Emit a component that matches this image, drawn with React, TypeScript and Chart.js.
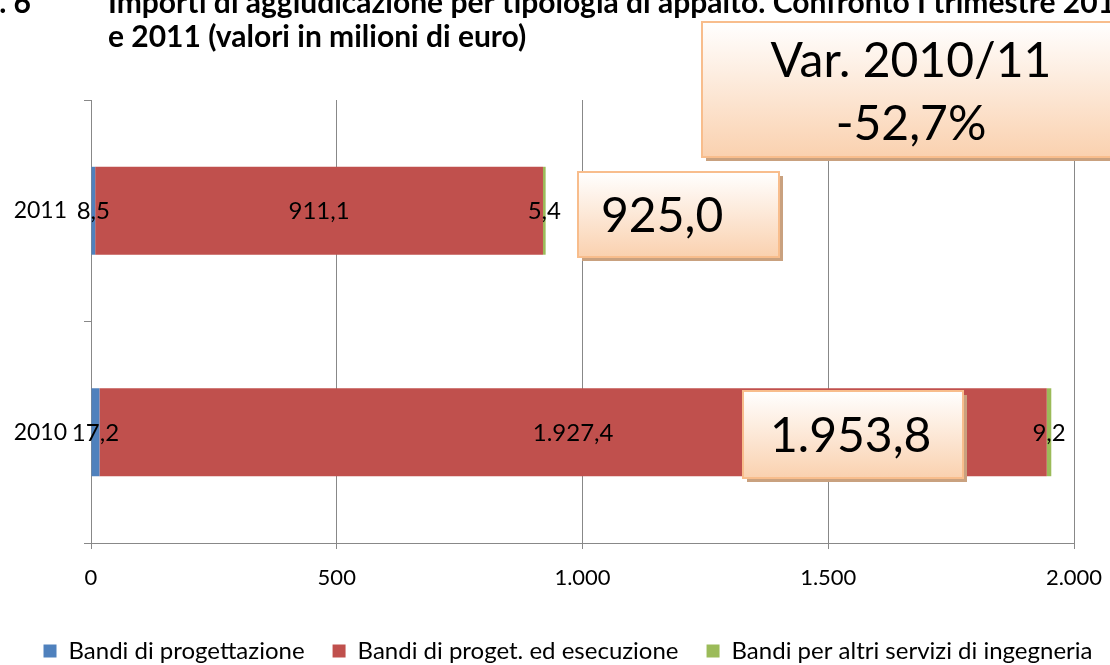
import React, { useEffect, useRef } from 'react';
import { Chart, registerables } from 'chart.js';

Chart.register(...registerables);

// ---- data ----
const categories = ['2011', '2010'];
const seriesNames = [
  'Bandi di progettazione',
  'Bandi di proget. ed esecuzione',
  'Bandi per altri servizi di ingegneria',
];
const progettazione = [8.5, 17.2];
const progEsecuzione = [911.1, 1927.4];
const altriServizi = [5.4, 9.2];
const xTickValues = [0, 500, 1000, 1500, 2000];
const figLabel = 'Fig. 6';
const titleLines = [
  'Importi di aggiudicazione per tipologia di appalto. Confronto I trimestre 2010',
  'e 2011 (valori in milioni di euro)',
];
const varLabel = 'Var. 2010/11';

const seriesColors = ['#4F81BD', '#C0504D', '#9BBB59'];
const FONT = "Lato, 'Open Sans', sans-serif";

function itNum(v: number, dec: number): string {
  const s = v.toFixed(dec);
  const neg = s.startsWith('-');
  const body = neg ? s.slice(1) : s;
  const [i, d] = body.split('.');
  const withDots = i.replace(/\B(?=(\d{3})+(?!\d))/g, '.');
  return (neg ? '-' : '') + withDots + (d !== undefined ? ',' + d : '');
}

const totals = categories.map((_, i) => progettazione[i] + progEsecuzione[i] + altriServizi[i]);
const variation = ((totals[0] - totals[1]) / totals[1]) * 100;

function drawBox(
  ctx: CanvasRenderingContext2D,
  x: number, y: number, w: number, h: number,
  lines: string[], fontSize: number, align: 'left' | 'center', textX: number, lineYs: number[]
) {
  ctx.save();
  ctx.fillStyle = '#C9A17F';
  ctx.fillRect(x + 4, y + 4, w, h);
  const g = ctx.createLinearGradient(0, y, 0, y + h);
  g.addColorStop(0, '#FFFFFF');
  g.addColorStop(1, '#FAD1AF');
  ctx.fillStyle = g;
  ctx.fillRect(x, y, w, h);
  ctx.strokeStyle = '#F8BD8C';
  ctx.lineWidth = 2;
  ctx.strokeRect(x, y, w, h);
  ctx.fillStyle = '#000';
  ctx.font = `${fontSize}px ${FONT}`;
  ctx.textAlign = align;
  ctx.textBaseline = 'middle';
  lines.forEach((l, i) => ctx.fillText(l, textX, lineYs[i]));
  ctx.restore();
}

const labelsPlugin = {
  id: 'segLabels',
  afterDatasetsDraw(chart: any) {
    const ctx = chart.ctx as CanvasRenderingContext2D;
    ctx.save();
    ctx.font = `24px ${FONT}`;
    ctx.fillStyle = '#000';
    ctx.textAlign = 'center';
    ctx.textBaseline = 'middle';
    chart.data.datasets.forEach((ds: any, di: number) => {
      const meta = chart.getDatasetMeta(di);
      meta.data.forEach((el: any, i: number) => {
        const p = el.getProps(['x', 'y', 'base'], true);
        const cx = (p.x + p.base) / 2;
        ctx.fillText(itNum(ds.data[i], 1), cx, p.y + 1);
      });
    });
    ctx.restore();
  },
};

const decorPlugin = {
  id: 'decor',
  afterLayout(chart: any) {
    if (chart.legend) {
      chart.legend.left += 13;
      chart.legend.right += 13;
    }
  },
  afterDraw(chart: any) {
    const ctx = chart.ctx as CanvasRenderingContext2D;
    ctx.save();
    ctx.fillStyle = '#000';
    ctx.font = `bold 30px ${FONT}`;
    ctx.textBaseline = 'alphabetic';
    ctx.textAlign = 'right';
    ctx.fillText(figLabel, 31, 13);
    ctx.textAlign = 'left';
    ctx.fillText(titleLines[0], 108, 13);
    ctx.fillText(titleLines[1], 108, 47);
    ctx.restore();

    drawBox(ctx, 702, 22, 418, 135, [varLabel, itNum(variation, 1) + '%'], 48, 'center', 911, [62, 125]);
    drawBox(ctx, 578, 172, 201, 85, [itNum(totals[0], 1)], 48, 'left', 601, [217]);
    drawBox(ctx, 743, 391, 220, 87, [itNum(totals[1], 1)], 48, 'left', 770, [437]);
  },
};

export default function App() {
  const ref = useRef<HTMLCanvasElement | null>(null);
  useEffect(() => {
    if (!ref.current) return;
    const chart = new Chart(ref.current, {
      type: 'bar',
      data: {
        labels: categories,
        datasets: [progettazione, progEsecuzione, altriServizi].map((d, i) => ({
          label: seriesNames[i],
          data: d,
          backgroundColor: seriesColors[i],
          borderWidth: 0,
          categoryPercentage: 1,
          barPercentage: 0.397,
        })),
      },
      options: {
        indexAxis: 'y',
        responsive: false,
        animation: false,
        layout: { padding: { top: 100, left: 0, right: 0, bottom: -8 } },
        scales: {
          x: {
            stacked: true,
            min: 0,
            max: 2000,
            afterBuildTicks(scale: any) {
              scale.ticks = xTickValues.map((v) => ({ value: v }));
            },
            afterFit(scale: any) {
              scale.height = 68;
              scale.paddingRight = 36;
            },
            ticks: {
              font: { family: FONT, size: 22 },
              color: '#000',
              padding: 16,
              maxRotation: 0,
              autoSkip: false,
              callback: (v: any) => itNum(Number(v), 0),
            },
            grid: { color: '#888', tickLength: 6, lineWidth: 1 },
            border: { color: '#888', width: 1 },
          },
          y: {
            stacked: true,
            afterFit(scale: any) {
              scale.width = 91;
            },
            ticks: {
              font: { family: FONT, size: 23 },
              color: '#000',
              padding: 17,
            },
            grid: { drawOnChartArea: false, tickLength: 7, color: '#888', offset: true },
            border: { color: '#888', width: 1 },
          },
        },
        plugins: {
          legend: {
            position: 'bottom',
            labels: {
              font: { family: FONT, size: 24 },
              color: '#000',
              boxWidth: 13,
              boxHeight: 13,
              padding: 28,
            },
          },
          title: { display: false },
          tooltip: { enabled: false },
        },
      },
      plugins: [labelsPlugin, decorPlugin],
    });
    return () => chart.destroy();
  }, []);
  return (
    <canvas
      ref={ref}
      width={1110}
      height={665}
      style={{ position: 'absolute', left: 0, top: 0, width: 1110, height: 665 }}
    />
  );
}
